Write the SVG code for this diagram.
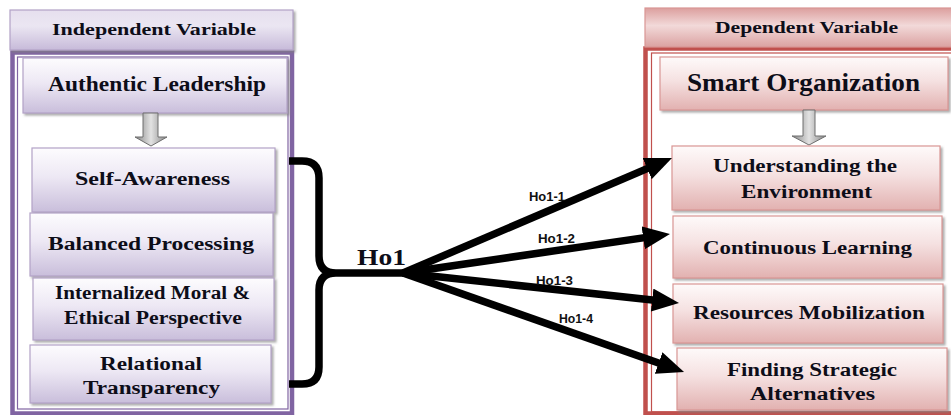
<svg xmlns="http://www.w3.org/2000/svg" width="951" height="415" viewBox="0 0 951 415">
  <defs>
    <linearGradient id="gPurple" x1="0" y1="0" x2="0" y2="1">
      <stop offset="0" stop-color="#fdfcfe"/>
      <stop offset="0.45" stop-color="#ede8f4"/>
      <stop offset="1" stop-color="#c9bedb"/>
    </linearGradient>
    <linearGradient id="gPurpleHead" x1="0" y1="0" x2="0" y2="1">
      <stop offset="0" stop-color="#e6dfee"/>
      <stop offset="0.4" stop-color="#ebe6f2"/>
      <stop offset="1" stop-color="#c7bad9"/>
    </linearGradient>
    <linearGradient id="gRed" x1="0" y1="0" x2="0" y2="1">
      <stop offset="0" stop-color="#fefafa"/>
      <stop offset="0.45" stop-color="#f5e1e1"/>
      <stop offset="1" stop-color="#e2b1b0"/>
    </linearGradient>
    <linearGradient id="gRedHead" x1="0" y1="0" x2="0" y2="1">
      <stop offset="0" stop-color="#dc9f9e"/>
      <stop offset="0.45" stop-color="#f2d9d9"/>
      <stop offset="1" stop-color="#dba2a1"/>
    </linearGradient>
    <linearGradient id="gGray" x1="0" y1="0" x2="1" y2="0">
      <stop offset="0" stop-color="#858585"/>
      <stop offset="0.5" stop-color="#e2e2e2"/>
      <stop offset="1" stop-color="#858585"/>
    </linearGradient>
    <filter id="shadow" x="-5%" y="-10%" width="112%" height="130%">
      <feDropShadow dx="2" dy="2" stdDeviation="1" flood-color="#7f7f7f" flood-opacity="0.65"/>
    </filter>
    <marker id="head" markerUnits="userSpaceOnUse" markerWidth="27" markerHeight="23" viewBox="0 0 27 23" refX="12" refY="11.5" orient="auto">
      <path d="M0,0 L27,11.5 L0,23 Z" fill="#000"/>
    </marker>
  </defs>
  <style>
    .pbox { fill: url(#gPurple); stroke: #b3a2c7; stroke-width: 1.2; filter: url(#shadow); }
    .phead { fill: url(#gPurpleHead); stroke: #b3a2c7; stroke-width: 1.2; filter: url(#shadow); }
    .rbox { fill: url(#gRed); stroke: #d99694; stroke-width: 1.2; filter: url(#shadow); }
    .rhead { fill: url(#gRedHead); stroke: #d99694; stroke-width: 1.2; }
    .down { fill: url(#gGray); stroke: #6e6e6e; stroke-width: 1; }
    .lbl { font-family: "Liberation Serif", "Times New Roman", serif; font-weight: bold; fill: #0d0d18; }
    .hyp { font-family: "Liberation Sans", Arial, sans-serif; font-weight: bold; font-size: 12px; fill: #111; }
    .conn { fill: none; stroke: #000; stroke-width: 7.5; }
  </style>

  <!-- outer frames -->
  <g id="frame-independent">
    <rect x="12.5" y="52.5" width="279.5" height="361" fill="#fff" stroke="#8064a2" stroke-width="4.5"/>
    <rect x="17.5" y="57" width="270.5" height="352" fill="none" stroke="#8064a2" stroke-width="1.2"/>
  </g>
  <g id="frame-dependent">
    <rect x="645.5" y="48.5" width="320" height="365" fill="#fff" stroke="#c0504d" stroke-width="4.5"/>
    <rect x="651.5" y="53" width="310" height="359" fill="none" stroke="#c0504d" stroke-width="1.2"/>
  </g>

  <!-- headers -->
  <g id="independent-variable">
    <rect class="phead" x="10" y="10" width="283" height="40"/>
    <text class="lbl" x="52" y="35" font-size="17" textLength="204" lengthAdjust="spacingAndGlyphs">Independent Variable</text>
  </g>
  <g id="dependent-variable">
    <rect class="rhead" x="645" y="8" width="310" height="39"/>
    <text class="lbl" x="715" y="32.5" font-size="16" textLength="183" lengthAdjust="spacingAndGlyphs">Dependent Variable</text>
  </g>

  <!-- independent side -->
  <g id="authentic-leadership">
    <rect class="pbox" x="23" y="58" width="264" height="55"/>
    <text class="lbl" x="48" y="91" font-size="20" textLength="218" lengthAdjust="spacingAndGlyphs">Authentic Leadership</text>
  </g>
  <g id="arrow-left-down">
    <path class="down" d="M143,113 H158 V137 H167 L151,146 L135,137 H143 Z"/>
  </g>
  <g id="self-awareness">
    <rect class="pbox" x="32" y="148" width="243" height="64"/>
    <text class="lbl" x="75" y="185" font-size="18" textLength="155" lengthAdjust="spacingAndGlyphs">Self-Awareness</text>
  </g>
  <g id="balanced-processing">
    <rect class="pbox" x="30" y="213" width="243" height="63"/>
    <text class="lbl" x="48" y="249.5" font-size="18" textLength="206" lengthAdjust="spacingAndGlyphs">Balanced Processing</text>
  </g>
  <g id="internalized-moral">
    <rect class="pbox" x="33" y="278" width="241" height="62"/>
    <text class="lbl" x="55" y="298.5" font-size="18" textLength="195" lengthAdjust="spacingAndGlyphs">Internalized Moral &amp;</text>
    <text class="lbl" x="64" y="323.5" font-size="18" textLength="178" lengthAdjust="spacingAndGlyphs">Ethical Perspective</text>
  </g>
  <g id="relational-transparency">
    <rect class="pbox" x="30" y="345" width="241" height="58"/>
    <text class="lbl" x="100" y="369.5" font-size="18" textLength="102" lengthAdjust="spacingAndGlyphs">Relational</text>
    <text class="lbl" x="83" y="393.5" font-size="18" textLength="137" lengthAdjust="spacingAndGlyphs">Transparency</text>
  </g>

  <!-- dependent side -->
  <g id="smart-organization">
    <rect class="rbox" x="660" y="57" width="288" height="53"/>
    <text class="lbl" x="687" y="90.5" font-size="26" textLength="233" lengthAdjust="spacingAndGlyphs">Smart Organization</text>
  </g>
  <g id="arrow-right-down">
    <path class="down" d="M803,110 H815 V136 H826 L809,145 L792,136 H803 Z"/>
  </g>
  <g id="understanding-environment">
    <rect class="rbox" x="672" y="146" width="268" height="64"/>
    <text class="lbl" x="713" y="171.5" font-size="18" textLength="184" lengthAdjust="spacingAndGlyphs">Understanding the</text>
    <text class="lbl" x="741" y="197.5" font-size="18" textLength="131" lengthAdjust="spacingAndGlyphs">Environment</text>
  </g>
  <g id="continuous-learning">
    <rect class="rbox" x="673" y="216" width="269" height="62"/>
    <text class="lbl" x="703" y="253.5" font-size="18" textLength="209" lengthAdjust="spacingAndGlyphs">Continuous Learning</text>
  </g>
  <g id="resources-mobilization">
    <rect class="rbox" x="673" y="284" width="270" height="59"/>
    <text class="lbl" x="693" y="318.5" font-size="18" textLength="232" lengthAdjust="spacingAndGlyphs">Resources Mobilization</text>
  </g>
  <g id="finding-strategic-alternatives">
    <rect class="rbox" x="677" y="348" width="270" height="62"/>
    <text class="lbl" x="727" y="375.5" font-size="18" textLength="170" lengthAdjust="spacingAndGlyphs">Finding Strategic</text>
    <text class="lbl" x="750" y="399.5" font-size="18" textLength="125" lengthAdjust="spacingAndGlyphs">Alternatives</text>
  </g>

  <!-- connectors: brace gathering the dimensions, then the four hypothesis arrows -->
  <g id="connectors">
    <path class="conn" stroke-width="8" d="M289,161 H302 Q319,161 319,178 V256 Q319,273 336,273 H410 M336,273 Q319,273 319,290 V367 Q319,384 302,384 H289"/>
    <line class="conn" x1="403" y1="273" x2="658.2" y2="163.9" marker-end="url(#head)"/>
    <line class="conn" x1="403" y1="273" x2="655.1" y2="236.1" marker-end="url(#head)"/>
    <line class="conn" x1="403" y1="273" x2="664.1" y2="301.3" marker-end="url(#head)"/>
    <line class="conn" x1="403" y1="273" x2="669.9" y2="367.0" marker-end="url(#head)"/>
    <text class="lbl" x="357" y="264.5" font-size="24" textLength="49" lengthAdjust="spacingAndGlyphs">Ho1</text>
    <text class="hyp" x="529" y="201" textLength="36" lengthAdjust="spacingAndGlyphs">Ho1-1</text>
    <text class="hyp" x="538" y="243" textLength="37" lengthAdjust="spacingAndGlyphs">Ho1-2</text>
    <text class="hyp" x="536" y="285" textLength="37" lengthAdjust="spacingAndGlyphs">Ho1-3</text>
    <text class="hyp" x="559" y="323" textLength="34" lengthAdjust="spacingAndGlyphs">Ho1-4</text>
  </g>
</svg>
